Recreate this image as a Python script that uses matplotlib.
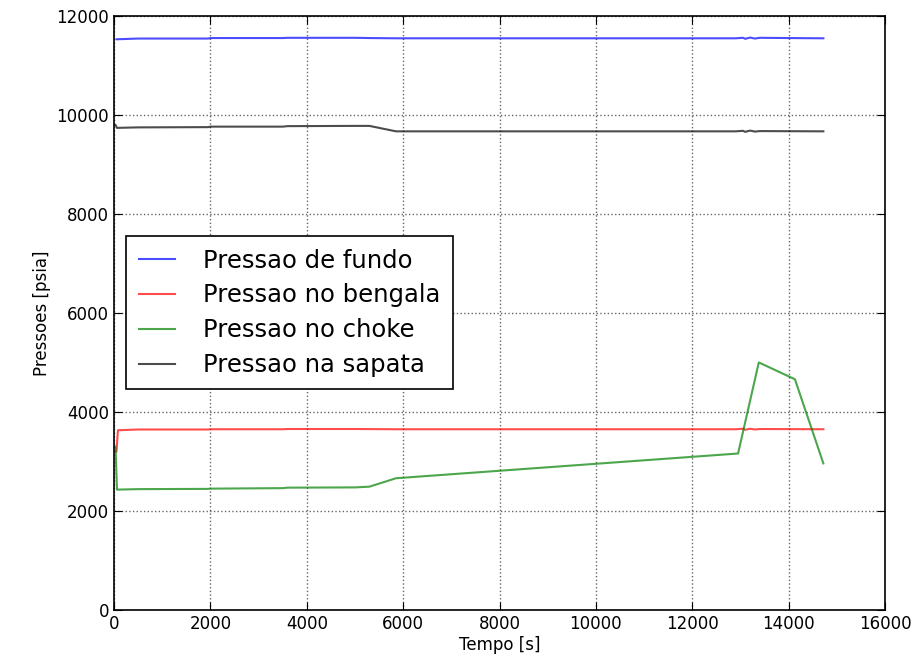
import matplotlib.pyplot as plt

# tempo [s] e pressoes [psia]
t_fundo = [50, 500, 1950, 2000, 3500, 3600, 5000, 5300, 5850, 12900, 13050, 13100, 13200, 13300, 13400, 14000, 14720]
p_fundo = [11530, 11545, 11545, 11555, 11555, 11560, 11560, 11555, 11550, 11550, 11560, 11540, 11565, 11545, 11560, 11555, 11550]

t_bengala = [0, 50, 80, 500, 1950, 2000, 3500, 3600, 5000, 5850, 12900, 13050, 13100, 13200, 13300, 13400, 14720]
p_bengala = [3200, 3200, 3630, 3645, 3645, 3650, 3650, 3655, 3655, 3650, 3650, 3660, 3640, 3660, 3645, 3655, 3650]

t_choke = [0, 30, 60, 500, 1950, 2000, 3500, 3600, 5000, 5300, 5850, 12950, 13380, 14130, 14720]
p_choke = [3300, 3300, 2430, 2440, 2445, 2450, 2460, 2470, 2475, 2490, 2660, 3160, 5000, 4660, 2960]

t_sapata = [0, 30, 60, 500, 1950, 2000, 3500, 3600, 5000, 5300, 5850, 12900, 13050, 13100, 13200, 13300, 13400, 14720]
p_sapata = [9800, 9800, 9740, 9750, 9755, 9765, 9765, 9775, 9780, 9780, 9670, 9670, 9680, 9660, 9685, 9665, 9675, 9670]

fig = plt.figure(figsize=(9.2, 6.68), dpi=100)
ax = fig.add_axes([0.124, 0.087, 0.838, 0.889])

ax.plot(t_fundo, p_fundo, color='b', alpha=0.7, lw=1.5, label='Pressao de fundo')
ax.plot(t_bengala, p_bengala, color='r', alpha=0.7, lw=1.5, label='Pressao no bengala')
ax.plot(t_choke, p_choke, color='g', alpha=0.7, lw=1.5, label='Pressao no choke')
ax.plot(t_sapata, p_sapata, color='k', alpha=0.7, lw=1.5, label='Pressao na sapata')

ax.set_xlim(0, 16000)
ax.set_ylim(0, 12000)
ax.set_xticks(range(0, 16001, 2000))
ax.set_yticks(range(0, 12001, 2000))
ax.grid(True, linestyle=':', color='k', alpha=0.6, lw=1)
ax.tick_params(direction='in', length=6, labelsize=12, top=True, right=True)
for s in ax.spines.values():
    s.set_linewidth(1.2)

ax.set_xlabel('Tempo [s]', fontsize=12, labelpad=2)
ax.set_ylabel('Pressoes [psia]', fontsize=12)

leg = ax.legend(loc='upper left', bbox_to_anchor=(0.016, 0.629), borderaxespad=0,
                fontsize=17.5, fancybox=False, framealpha=1, edgecolor='k',
                handlelength=1.5, handletextpad=1.15, borderpad=0.5, labelspacing=0.45)
leg.get_frame().set_linewidth(1.2)

fig.savefig('out.png', dpi=100)
